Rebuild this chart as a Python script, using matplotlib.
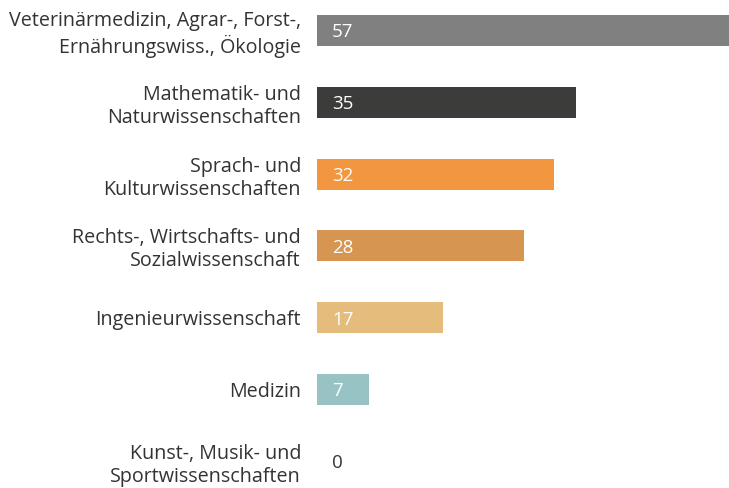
import matplotlib as mpl
import matplotlib.pyplot as plt

mpl.use('Agg')

plt.rcParams['font.family'] = ['Open Sans', 'DejaVu Sans']

categories = ['Veterinärmedizin, Agrar-, Forst-,\nErnährungswiss., Ökologie',
              'Mathematik- und\nNaturwissenschaften',
              'Sprach- und\nKulturwissenschaften',
              'Rechts-, Wirtschafts- und\nSozialwissenschaft',
              'Ingenieurwissenschaft',
              'Medizin',
              'Kunst-, Musik- und\nSportwissenschaften']
values = [57, 35, 32, 28, 17, 7, 0]
colors = ['#808080', '#3c3c3b', '#f39640', '#d69550', '#e5bc7c', '#98c3c4', '#ffffff']

fig = plt.figure(figsize=(7.29, 4.88), dpi=100)
ax = fig.add_axes([317 / 729, 0, 412 / 729, 1])

ypos = list(range(len(values)))
ax.barh(ypos, values, height=0.432, color=colors)

for y, v in zip(ypos, values):
    txt_color = 'white' if v > 0 else '#333333'
    ax.text(2.0, y, str(v), color=txt_color, fontsize=13.5, va='center_baseline', ha='left')

ax.set_xlim(0, 412 / 7.4)
ax.set_ylim(6.376, -0.425)
ax.set_yticks(ypos)
ax.set_yticklabels(categories, fontsize=14.2, color='#333333', linespacing=1.2)
ax.tick_params(axis='y', length=0, pad=11.5)
ax.set_xticks([])
for s in ax.spines.values():
    s.set_visible(False)

fig.savefig('out.png', dpi=100)
